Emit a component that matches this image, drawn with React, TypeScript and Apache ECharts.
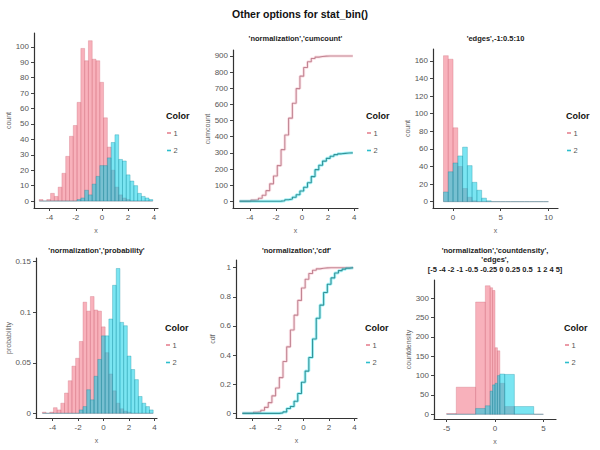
import React, { useEffect, useRef } from "react";
import * as echarts from "echarts";

// ---- data ----
const histEdges = [-4.8, -4.51, -4.22, -3.93, -3.64, -3.35, -3.06, -2.77, -2.48, -2.19, -1.9, -1.61, -1.32, -1.03, -0.74, -0.45, -0.16, 0.13, 0.42, 0.71, 1.0, 1.29, 1.58, 1.87, 2.16, 2.45, 2.74, 3.03, 3.32, 3.61, 3.9];
const redCounts = [1, 0, 1, 5, 3, 9, 18, 29, 42, 49, 64, 99, 91, 104, 92, 91, 77, 54, 35, 20, 9, 4, 2, 1, 0, 0, 0, 0, 0, 0];
const blueCounts = [0, 0, 0, 0, 0, 0, 0, 0, 0, 0, 1, 2, 7, 4, 11, 16, 23, 23, 28, 38, 43, 27, 26, 17, 13, 10, 5, 3, 2, 1];

const edgesB = [-1, -0.5, 0, 0.5, 1, 1.5, 2, 2.5, 3, 3.5, 4, 4.5, 5, 5.5, 6, 6.5, 7, 7.5, 8, 8.5, 9, 9.5, 10];
const redEdgeCounts = [166, 162, 84, 40, 15, 5, 1, 0, 0, 0, 0, 0, 0, 0, 0, 0, 0, 0, 0, 0, 0, 0];
const blueEdgeCounts = [11, 34, 44, 52, 62, 41, 22, 13, 4, 1, 0, 0, 0, 0, 0, 0, 0, 0, 0, 0, 0, 0];

const cdEdges = [-5, -4, -2, -1, -0.5, -0.25, 0, 0.25, 0.5, 1, 2, 4, 5];
const redDensity = [2, 70, 290, 332, 327, 320, 172, 164, 80, 20, 0.5, 0];
const blueDensity = [0, 0.5, 15, 22, 60, 76, 80, 100, 104, 103, 20, 0];

const groups = ["1", "2"];
const mainTitle = "Other options for stat_bin()";
const panelTitles = [
  [],
  ["'normalization','cumcount'"],
  ["'edges',-1:0.5:10"],
  ["'normalization','probability'"],
  ["'normalization','cdf'"],
  ["'normalization','countdensity',", "'edges',", "[-5 -4 -2 -1 -0.5 -0.25 0 0.25 0.5  1 2 4 5]"],
];
const yNames = ["count", "cumcount", "count", "probability", "cdf", "countdensity"];
const xTicks = [
  [-4, -2, 0, 2, 4],
  [-4, -2, 0, 2, 4],
  [0, 5, 10],
  [-4, -2, 0, 2, 4],
  [-4, -2, 0, 2, 4],
  [-5, 0, 5],
];
const yTicks = [
  [0, 10, 20, 30, 40, 50, 60, 70, 80, 90, 100],
  [0, 100, 200, 300, 400, 500, 600, 700, 800, 900],
  [0, 20, 40, 60, 80, 100, 120, 140, 160],
  [0, 0.05, 0.1, 0.15],
  [0, 0.2, 0.4, 0.6, 0.8, 1],
  [0, 50, 100, 150, 200, 250, 300],
];

// ---- styles / layout ----
const FONT = '"Liberation Sans", Arial, Helvetica, sans-serif';
const RED_FILL = "rgba(242,105,125,0.52)";
const RED_EDGE = "rgba(205,105,120,0.55)";
const BLUE_FILL = "rgba(0,205,230,0.52)";
const BLUE_EDGE = "rgba(20,140,160,0.55)";
const RED_LINE = "#c28593";
const BLUE_LINE = "#349499";

const grids = [
  { left: 34, top: 33, width: 124, height: 175 },
  { left: 233, top: 50, width: 125, height: 158 },
  { left: 433, top: 49, width: 125, height: 159 },
  { left: 36, top: 258, width: 121, height: 160 },
  { left: 236, top: 260, width: 121, height: 158 },
  { left: 434, top: 280, width: 122, height: 139 },
];
const xRanges = [
  [-5.2, 4.3],
  [-5.3, 4.3],
  [-2.1, 11.0],
  [-5.3, 4.2],
  [-5.3, 4.2],
  [-6.3, 6.3],
];
const yRanges = [
  [-4.5, 109],
  [-41.5, 937],
  [-7.2, 173.6],
  [-0.00465, 0.1537],
  [-0.032, 1.053],
  [-12.2, 347],
];
const yNameGaps = [19, 18, 18, 22, 19, 20];

function binData(edges: number[], vals: number[]) {
  return vals.map((v, i) => [edges[i], edges[i + 1], v]);
}
function cumulative(vals: number[]) {
  const out: number[] = [];
  let s = 0;
  vals.forEach((v) => {
    s += v;
    out.push(s);
  });
  return out;
}
function stairData(edges: number[], vals: number[]) {
  const pts = vals.map((v, i) => [edges[i], v]);
  pts.push([edges[edges.length - 1], vals[vals.length - 1]]);
  return pts;
}

function makeRender(fill: string, stroke: string) {
  return (params: any, api: any) => {
    const x0 = api.value(0);
    const x1 = api.value(1);
    const v = api.value(2);
    const p0 = api.coord([x0, v]);
    const p1 = api.coord([x1, 0]);
    const h = p1[1] - p0[1];
    if (h < 0.6) {
      return {
        type: "line",
        shape: { x1: p0[0], y1: p1[1], x2: p1[0], y2: p1[1] },
        style: { stroke, lineWidth: 0.9 },
      };
    }
    return {
      type: "rect",
      shape: { x: p0[0], y: p0[1], width: p1[0] - p0[0], height: h },
      style: { fill, stroke, lineWidth: 0.6 },
    };
  };
}

function histSeries(idx: number, edges: number[], vals: number[], fill: string, stroke: string) {
  return {
    type: "custom",
    xAxisIndex: idx,
    yAxisIndex: idx,
    renderItem: makeRender(fill, stroke),
    data: binData(edges, vals),
    encode: { x: [0, 1], y: 2 },
    silent: true,
  };
}

function stairSeries(idx: number, edges: number[], vals: number[], core: string, halo: string) {
  const data = stairData(edges, vals);
  return [
    {
      type: "line",
      xAxisIndex: idx,
      yAxisIndex: idx,
      step: "end",
      symbol: "none",
      data,
      lineStyle: { color: halo, width: 3 },
      silent: true,
    },
    {
      type: "line",
      xAxisIndex: idx,
      yAxisIndex: idx,
      step: "end",
      symbol: "none",
      data,
      lineStyle: { color: core, width: 1.1 },
      silent: true,
    },
  ];
}

function buildOption() {
  const redCum = cumulative(redCounts);
  const blueCum = cumulative(blueCounts);
  const redTotal = redCum[redCum.length - 1];
  const blueTotal = blueCum[blueCum.length - 1];

  const xAxis = grids.map((_, i) => ({
    type: "value",
    gridIndex: i,
    min: xRanges[i][0],
    max: xRanges[i][1],
    name: "x",
    nameLocation: "middle",
    nameGap: 19,
    nameTextStyle: { fontSize: 7, color: "#666", fontFamily: FONT },
    axisLine: { show: true, onZero: false, lineStyle: { color: "#333", width: 1.2 } },
    axisTick: { show: true, customValues: xTicks[i], length: 3, lineStyle: { color: "#444" } },
    axisLabel: { customValues: xTicks[i], fontSize: 8, color: "#555", margin: 5, fontFamily: FONT },
    splitLine: { show: false },
  }));
  const yAxis = grids.map((_, i) => ({
    type: "value",
    gridIndex: i,
    min: yRanges[i][0],
    max: yRanges[i][1],
    name: yNames[i],
    nameLocation: "middle",
    nameGap: yNameGaps[i],
    nameTextStyle: { fontSize: 7, color: "#666", fontFamily: FONT },
    axisLine: { show: true, onZero: false, lineStyle: { color: "#333", width: 1.2 } },
    axisTick: { show: true, customValues: yTicks[i], length: 3, lineStyle: { color: "#444" } },
    axisLabel: { customValues: yTicks[i], fontSize: 8, color: "#555", margin: 5, fontFamily: FONT },
    splitLine: { show: false },
  }));

  const redHalo = "rgba(245,160,175,0.3)";
  const blueHalo = "rgba(0,220,235,0.35)";
  const series: any[] = [
    histSeries(0, histEdges, redCounts, RED_FILL, RED_EDGE),
    histSeries(0, histEdges, blueCounts, BLUE_FILL, BLUE_EDGE),
    ...stairSeries(1, histEdges, redCum, RED_LINE, redHalo),
    ...stairSeries(1, histEdges, blueCum, BLUE_LINE, blueHalo),
    histSeries(2, edgesB, redEdgeCounts, RED_FILL, RED_EDGE),
    histSeries(2, edgesB, blueEdgeCounts, BLUE_FILL, BLUE_EDGE),
    histSeries(3, histEdges, redCounts.map((v) => v / redTotal), RED_FILL, RED_EDGE),
    histSeries(3, histEdges, blueCounts.map((v) => v / blueTotal), BLUE_FILL, BLUE_EDGE),
    ...stairSeries(4, histEdges, redCum.map((v) => v / redTotal), RED_LINE, redHalo),
    ...stairSeries(4, histEdges, blueCum.map((v) => v / blueTotal), BLUE_LINE, blueHalo),
    histSeries(5, cdEdges, redDensity, RED_FILL, RED_EDGE),
    histSeries(5, cdEdges, blueDensity, BLUE_FILL, BLUE_EDGE),
  ];

  const graphic: any[] = [];
  graphic.push({
    type: "text",
    x: 300,
    y: 14,
    style: { text: mainTitle, font: `bold 10.5px ${FONT}`, fill: "#111", align: "center", verticalAlign: "middle" },
  });
  grids.forEach((g, i) => {
    const lines = panelTitles[i];
    const cx = g.left + g.width / 2;
    const baseY = i < 3 ? 38 : 250;
    lines.forEach((t, k) => {
      graphic.push({
        type: "text",
        x: cx,
        y: baseY + k * 9.6,
        style: { text: t, font: `bold 7.5px ${FONT}`, fill: "#222", align: "center", verticalAlign: "middle" },
      });
    });
    // legend
    const lx = g.left + g.width + 8;
    const ly = i < 3 ? 116 : 328;
    graphic.push({
      type: "text",
      x: lx,
      y: ly,
      style: { text: "Color", font: `bold 9px ${FONT}`, fill: "#111", align: "left", verticalAlign: "middle" },
    });
    const cols = ["rgb(230,130,145)", "rgb(45,190,205)"];
    groups.forEach((gname, k) => {
      const yy = ly + 17 + k * 17.5;
      graphic.push({
        type: "rect",
        shape: { x: lx + 1, y: yy - 0.8, width: 4, height: 1.6 },
        style: { fill: cols[k] },
      });
      graphic.push({
        type: "text",
        x: lx + 7.5,
        y: yy,
        style: { text: gname, font: `7.5px ${FONT}`, fill: "#555", align: "left", verticalAlign: "middle" },
      });
    });
  });

  return {
    animation: false,
    backgroundColor: "#fff",
    textStyle: { fontFamily: FONT },
    grid: grids.map((g) => ({ ...g, containLabel: false })),
    xAxis,
    yAxis,
    series,
    graphic,
  };
}

export default function App() {
  const ref = useRef<HTMLDivElement>(null);
  useEffect(() => {
    if (!ref.current) return;
    const chart = echarts.init(ref.current, undefined, { renderer: "svg" });
    chart.setOption(buildOption() as any);
    return () => chart.dispose();
  }, []);
  return <div ref={ref} style={{ width: 600, height: 450, position: "absolute", left: 0, top: 0 }} />;
}
